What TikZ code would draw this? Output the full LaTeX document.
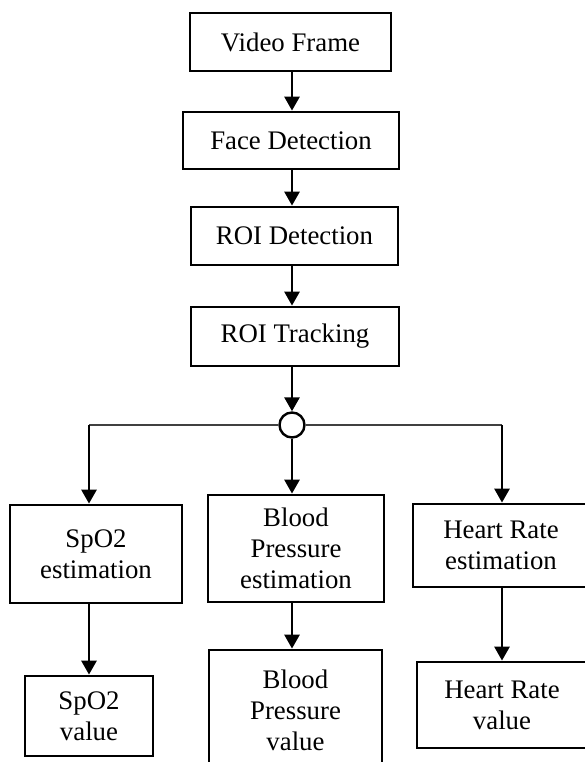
\documentclass[tikz,border=0pt]{standalone}
\usepackage{fontspec}
\setmainfont{Liberation Serif}
\usetikzlibrary{arrows.meta}
\begin{document}
\begin{tikzpicture}[x=1pt,y=-1pt,
  stage/.style={draw, line width=2.8pt, rectangle, inner sep=0pt, align=center,
    font=\fontsize{26.8}{31}\selectfont},
  flow/.style={line width=2.8pt, -{Triangle[length=14pt,width=15pt]}},
  branch/.style={line width=1.6pt, draw=black!75},
  hub/.style={draw, circle, line width=2.4pt, minimum size=25pt, inner sep=0pt, fill=white}]
\useasboundingbox (0,0) rectangle (585,762);
\clip (0,0) rectangle (585,762);

% main pipeline
\node[stage, minimum width=201pt, minimum height=58pt] (vf)   at (290.5,42)  {Video Frame};
\node[stage, minimum width=216pt, minimum height=57pt] (fd)   at (291,140.5) {Face Detection};
\node[stage, minimum width=207pt, minimum height=58pt] (roid) at (294.5,236) {ROI Detection};
\node[stage, minimum width=208pt, minimum height=59pt] (roit) at (295,336.5) {ROI Tracking};

% branching point
\node[hub] (hub) at (292,425) {};
\coordinate (col) at (292,0);
\coordinate (lc) at (89,425);
\coordinate (rc) at (502,425);

% estimation stages
\node[stage, minimum width=172pt, minimum height=98pt]  (spe) at (96,554)    {SpO2\\estimation};
\node[stage, minimum width=176pt, minimum height=107pt] (bpe) at (296,548.5) {Blood\\Pressure\\estimation};
\node[stage, minimum width=176pt, minimum height=83pt]  (hre) at (501,545.5) {Heart Rate\\estimation};

% output values
\node[stage, minimum width=128pt, minimum height=80pt]  (spv) at (89,716)    {SpO2\\value};
\node[stage, minimum width=173pt, minimum height=121pt] (bpv) at (295.5,710.5) {Blood\\Pressure\\value};
\node[stage, minimum width=170pt, minimum height=86pt]  (hrv) at (502,705)   {Heart Rate\\value};

% connectors
\draw[flow] (vf.south -| col)   -- (fd.north -| col);
\draw[flow] (fd.south -| col)   -- (roid.north -| col);
\draw[flow] (roid.south -| col) -- (roit.north -| col);
\draw[flow] (roit.south -| col) -- (hub.north);

\draw[branch] (hub.west) -- (lc);
\draw[branch] (hub.east) -- (rc);
\draw[flow] (lc) -- (spe.north -| lc);
\draw[flow] (hub.south) -- (bpe.north -| hub);
\draw[flow] (rc) -- (hre.north -| rc);

\draw[flow] (spe.south -| lc)  -- (spv.north -| lc);
\draw[flow] (bpe.south -| hub) -- (bpv.north -| hub);
\draw[flow] (hre.south -| rc)  -- (hrv.north -| rc);
\end{tikzpicture}
\end{document}
